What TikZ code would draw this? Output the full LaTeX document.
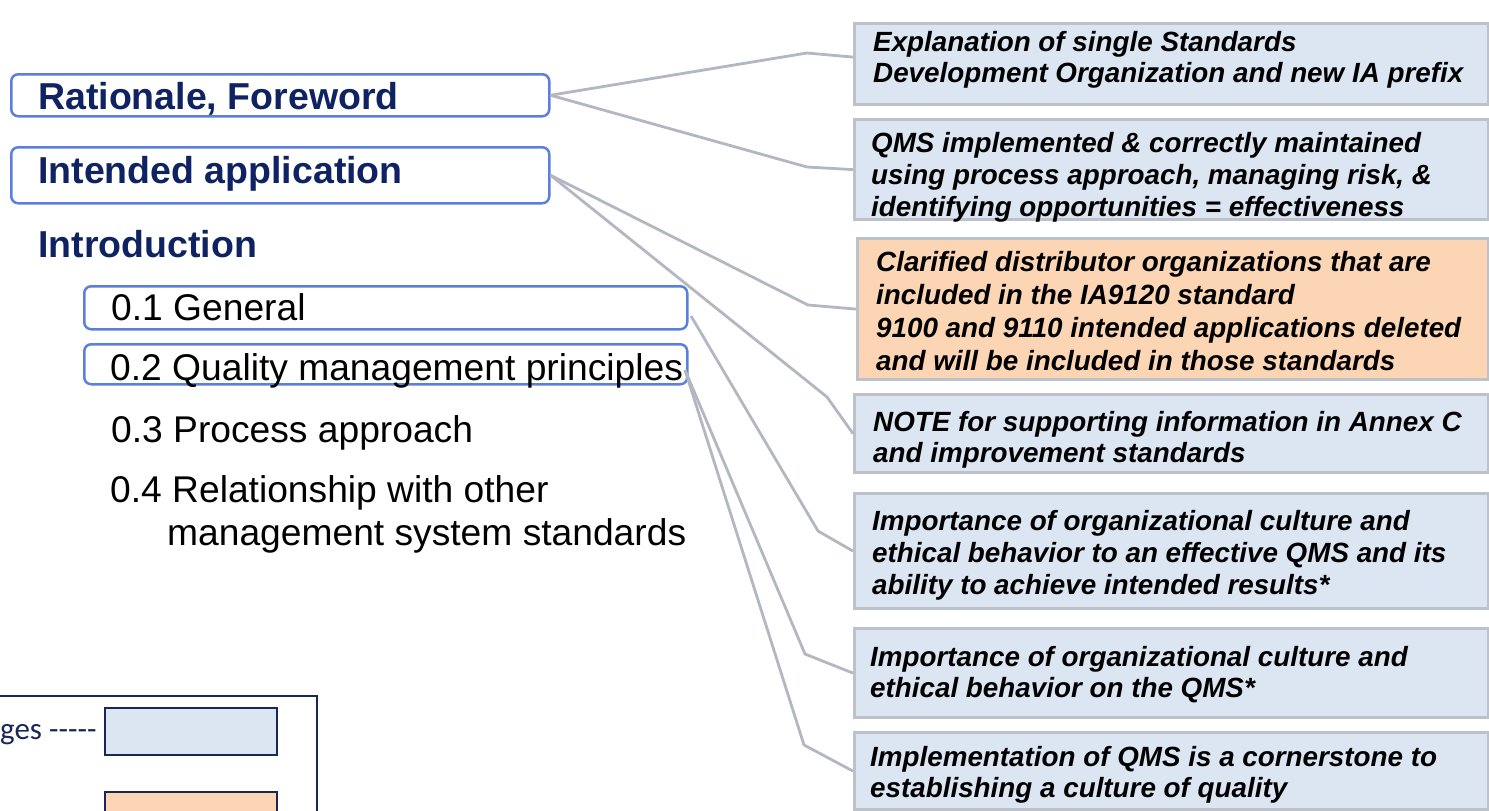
\documentclass[tikz,border=0pt]{standalone}
\usepackage{fontspec}
\setmainfont{Liberation Sans}
\newfontfamily\legfont{Carlito}
\definecolor{navy}{HTML}{0F2262}
\definecolor{lblue}{HTML}{5B7FDE}
\definecolor{cgrey}{HTML}{B2B7C1}
\definecolor{bgrey}{HTML}{BCC1CA}
\definecolor{bfill}{HTML}{DCE6F2}
\definecolor{ofill}{HTML}{FBD5B4}
\definecolor{legnavy}{HTML}{1A2657}
\begin{document}
\begin{tikzpicture}[x=1pt,y=-1pt,
  lbox/.style={draw=lblue, line width=2.5pt, rounded corners=7pt, anchor=north west, inner sep=0pt, minimum width=538pt},
  sbox/.style={draw=lblue, line width=2.5pt, rounded corners=7pt, anchor=north west, inner sep=0pt, minimum width=603pt},
  head/.style={anchor=base west, inner sep=0pt, text=navy, font=\fontsize{37.5}{40}\selectfont\bfseries},
  item/.style={anchor=base west, inner sep=0pt, text=black, font=\fontsize{37.2}{40}\selectfont},
  rbox/.style={draw=bgrey, line width=3.2pt, fill=bfill, anchor=north west, inner sep=0pt, minimum width=634pt},
  obox/.style={rbox, fill=ofill, minimum width=631pt},
  rtext/.style={anchor=west, inner sep=0pt, align=left, font=\fontsize{27.8}{32}\selectfont\bfseries\itshape},
  conn/.style={draw=cgrey, line width=2.8pt, line join=round}
]
\useasboundingbox (0,0) rectangle (1489,811);

% right boxes
\node[rbox, minimum height=81pt] (b1) at (853,22) {};
\node[rbox, minimum height=100pt] (b2) at (853,118) {};
\node[obox, minimum height=141pt] (b3) at (856,237) {};
\node[rbox, minimum height=78pt] (b4) at (853,393) {};
\node[rbox, minimum height=115pt] (b5) at (853,492) {};
\node[rbox, minimum height=89pt] (b6) at (853,627) {};
\node[rbox, minimum height=77pt] (b7) at (853,731) {};

\node[rtext, font=\fontsize{27.8}{31}\selectfont\bfseries\itshape] (t1) at ([xshift=20pt,yshift=4pt]b1.west) {Explanation of single Standards\\Development Organization and new IA prefix};
\node[rtext] (t2) at ([xshift=18pt,yshift=-8pt]b2.west) {QMS implemented \& correctly maintained\\using process approach, managing risk, \&\\identifying opportunities = effectiveness};
\node[rtext, font=\fontsize{27.8}{33}\selectfont\bfseries\itshape] (t3) at ([xshift=20pt,yshift=-2pt]b3.west) {Clarified distributor organizations that are\\included in the IA9120 standard\\9100 and 9110 intended applications deleted\\and will be included in those standards};
\node[rtext, font=\fontsize{27.8}{31}\selectfont\bfseries\itshape] (t4) at ([xshift=20pt,yshift=-6pt]b4.west) {NOTE for supporting information in Annex C\\and improvement standards};
\node[rtext] (t5) at ([xshift=19pt,yshift=-4pt]b5.west) {Importance of organizational culture and\\ethical behavior to an effective QMS and its\\ability to achieve intended results*};
\node[rtext, font=\fontsize{27.8}{31}\selectfont\bfseries\itshape] (t6) at ([xshift=17pt,yshift=-2pt]b6.west) {Importance of organizational culture and\\ethical behavior on the QMS*};
\node[rtext, font=\fontsize{27.8}{31}\selectfont\bfseries\itshape] (t7) at ([xshift=17pt,yshift=-4pt]b7.west) {Implementation of QMS is a cornerstone to\\establishing a culture of quality};

% left boxes
\node[lbox, minimum height=42pt] (rat) at (10,73) {};
\node[lbox, minimum height=56pt] (ia) at (10,146) {};
\node[sbox, minimum height=43pt] (g01) at (83,285) {};
\node[sbox, minimum height=40pt] (g02) at (83,343) {};

\node[head] (ratt) at (38,109) {Rationale, Foreword};
\node[head] (iat) at (38,183) {Intended application};
\node[head] (intro) at (38,257) {Introduction};
\node[item] (t01) at (111,320) {0.1 General};
\node[item] (t02) at (110,380) {0.2 Quality management principles};
\node[item] (t03) at (111,442) {0.3 Process approach};
\node[item] (t04) at (110,502) {0.4 Relationship with other};
\node[item] (t04b) at (167,545) {management system standards};

% connector kinks
\coordinate (s5) at (691,316);
\coordinate (s6) at (685,370);
\coordinate (k1) at (807,53);
\coordinate (k2) at (807,167);
\coordinate (k3) at (808,305);
\coordinate (k4) at (827,397);
\coordinate (k5) at (818,531);
\coordinate (k6) at (805,654);
\coordinate (k7) at (804,745);

\draw[conn] (rat.east) -- (k1) -- ([yshift=7pt]b1.west);
\draw[conn] (rat.east) -- (k2) -- (b2.west);
\draw[conn] (ia.east) -- (k3) -- (b3.west);
\draw[conn] (ia.east) -- (k4) -- (b4.west);
\draw[conn] (s5) -- (k5) -- (b5.west);
\draw[conn] (s6) -- (k6) -- (b6.west);
\draw[conn] (s6) -- (k7) -- (b7.west);

% legend
\node[draw=legnavy, line width=2pt, anchor=north west, minimum width=326pt, minimum height=140pt, inner sep=0pt] (leg) at (-10,695) {};
\node[draw=legnavy, line width=2pt, fill=bfill, anchor=north west, minimum width=172pt, minimum height=47pt, inner sep=0pt] (lsw1) at (104,707) {};
\node[draw=legnavy, line width=2pt, fill=ofill, anchor=north west, minimum width=172pt, minimum height=47pt, inner sep=0pt] (lsw2) at (104,791) {};
\node[anchor=base west, inner sep=0pt, text=legnavy, font=\legfont\fontsize{31}{34}\selectfont] (lt1) at (0,739) {ges -----};
\end{tikzpicture}
\end{document}
